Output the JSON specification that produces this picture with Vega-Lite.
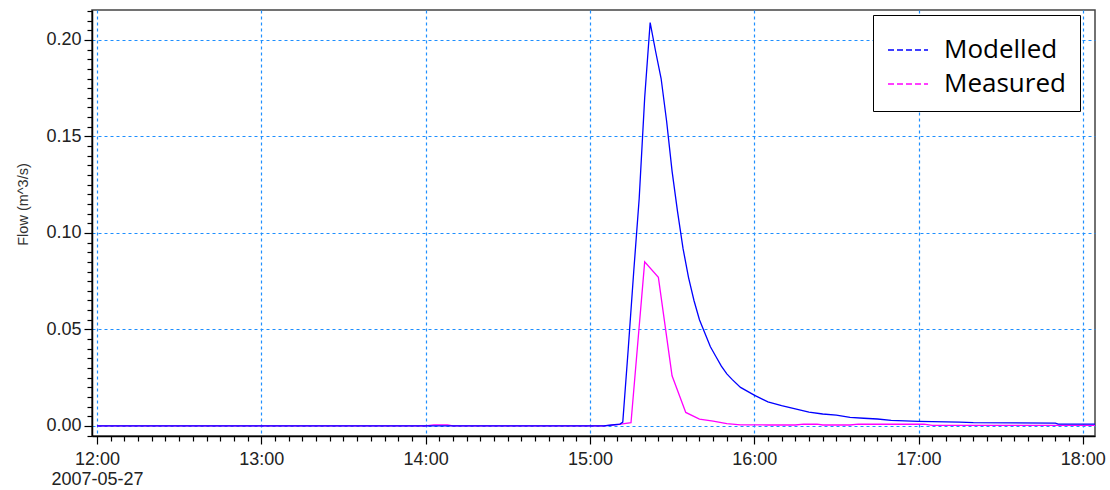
{
  "$schema": "https://vega.github.io/schema/vega-lite/v6.json",
  "width": 1003,
  "height": 426,
  "autosize": {"type": "none"},
  "padding": {"left": 92, "top": 10, "right": 15, "bottom": 54},
  "background": "white",
  "config": {
    "view": {"stroke": "#444", "strokeWidth": 1.5},
    "font": "Liberation Sans"
  },
  "data": {
    "values": [
      {"time": "2007-05-27T12:00:00", "flow": 0, "series": "Modelled"},
      {"time": "2007-05-27T15:05:00", "flow": 0, "series": "Modelled"},
      {"time": "2007-05-27T15:08:00", "flow": 0.0005, "series": "Modelled"},
      {"time": "2007-05-27T15:11:00", "flow": 0.001, "series": "Modelled"},
      {"time": "2007-05-27T15:12:00", "flow": 0.002, "series": "Modelled"},
      {"time": "2007-05-27T15:14:00", "flow": 0.040, "series": "Modelled"},
      {"time": "2007-05-27T15:16:00", "flow": 0.080, "series": "Modelled"},
      {"time": "2007-05-27T15:18:00", "flow": 0.118, "series": "Modelled"},
      {"time": "2007-05-27T15:20:00", "flow": 0.170, "series": "Modelled"},
      {"time": "2007-05-27T15:22:00", "flow": 0.209, "series": "Modelled"},
      {"time": "2007-05-27T15:24:00", "flow": 0.194, "series": "Modelled"},
      {"time": "2007-05-27T15:26:00", "flow": 0.180, "series": "Modelled"},
      {"time": "2007-05-27T15:28:00", "flow": 0.158, "series": "Modelled"},
      {"time": "2007-05-27T15:30:00", "flow": 0.132, "series": "Modelled"},
      {"time": "2007-05-27T15:32:00", "flow": 0.111, "series": "Modelled"},
      {"time": "2007-05-27T15:34:00", "flow": 0.092, "series": "Modelled"},
      {"time": "2007-05-27T15:36:00", "flow": 0.077, "series": "Modelled"},
      {"time": "2007-05-27T15:38:00", "flow": 0.065, "series": "Modelled"},
      {"time": "2007-05-27T15:40:00", "flow": 0.055, "series": "Modelled"},
      {"time": "2007-05-27T15:42:00", "flow": 0.048, "series": "Modelled"},
      {"time": "2007-05-27T15:44:00", "flow": 0.041, "series": "Modelled"},
      {"time": "2007-05-27T15:46:00", "flow": 0.036, "series": "Modelled"},
      {"time": "2007-05-27T15:48:00", "flow": 0.031, "series": "Modelled"},
      {"time": "2007-05-27T15:50:00", "flow": 0.027, "series": "Modelled"},
      {"time": "2007-05-27T15:52:00", "flow": 0.024, "series": "Modelled"},
      {"time": "2007-05-27T15:55:00", "flow": 0.020, "series": "Modelled"},
      {"time": "2007-05-27T16:00:00", "flow": 0.016, "series": "Modelled"},
      {"time": "2007-05-27T16:05:00", "flow": 0.0125, "series": "Modelled"},
      {"time": "2007-05-27T16:10:00", "flow": 0.0105, "series": "Modelled"},
      {"time": "2007-05-27T16:15:00", "flow": 0.0088, "series": "Modelled"},
      {"time": "2007-05-27T16:20:00", "flow": 0.0072, "series": "Modelled"},
      {"time": "2007-05-27T16:25:00", "flow": 0.0062, "series": "Modelled"},
      {"time": "2007-05-27T16:30:00", "flow": 0.0056, "series": "Modelled"},
      {"time": "2007-05-27T16:35:00", "flow": 0.0044, "series": "Modelled"},
      {"time": "2007-05-27T16:40:00", "flow": 0.0040, "series": "Modelled"},
      {"time": "2007-05-27T16:45:00", "flow": 0.0036, "series": "Modelled"},
      {"time": "2007-05-27T16:50:00", "flow": 0.0029, "series": "Modelled"},
      {"time": "2007-05-27T17:00:00", "flow": 0.0024, "series": "Modelled"},
      {"time": "2007-05-27T17:05:00", "flow": 0.0022, "series": "Modelled"},
      {"time": "2007-05-27T17:15:00", "flow": 0.0020, "series": "Modelled"},
      {"time": "2007-05-27T17:20:00", "flow": 0.0017, "series": "Modelled"},
      {"time": "2007-05-27T17:50:00", "flow": 0.0015, "series": "Modelled"},
      {"time": "2007-05-27T17:51:00", "flow": 0.0010, "series": "Modelled"},
      {"time": "2007-05-27T18:05:00", "flow": 0.0009, "series": "Modelled"},
      {"time": "2007-05-27T12:00:00", "flow": 0, "series": "Measured"},
      {"time": "2007-05-27T14:00:00", "flow": 0, "series": "Measured"},
      {"time": "2007-05-27T14:03:00", "flow": 0.0006, "series": "Measured"},
      {"time": "2007-05-27T14:08:00", "flow": 0.0006, "series": "Measured"},
      {"time": "2007-05-27T14:10:00", "flow": 0, "series": "Measured"},
      {"time": "2007-05-27T15:05:00", "flow": 0, "series": "Measured"},
      {"time": "2007-05-27T15:10:00", "flow": 0.0007, "series": "Measured"},
      {"time": "2007-05-27T15:15:00", "flow": 0.0017, "series": "Measured"},
      {"time": "2007-05-27T15:20:00", "flow": 0.085, "series": "Measured"},
      {"time": "2007-05-27T15:25:00", "flow": 0.077, "series": "Measured"},
      {"time": "2007-05-27T15:30:00", "flow": 0.026, "series": "Measured"},
      {"time": "2007-05-27T15:35:00", "flow": 0.007, "series": "Measured"},
      {"time": "2007-05-27T15:40:00", "flow": 0.0035, "series": "Measured"},
      {"time": "2007-05-27T15:45:00", "flow": 0.0025, "series": "Measured"},
      {"time": "2007-05-27T15:50:00", "flow": 0.0012, "series": "Measured"},
      {"time": "2007-05-27T15:55:00", "flow": 0.0006, "series": "Measured"},
      {"time": "2007-05-27T16:00:00", "flow": 0.0006, "series": "Measured"},
      {"time": "2007-05-27T16:05:00", "flow": 0.0005, "series": "Measured"},
      {"time": "2007-05-27T16:15:00", "flow": 0.0005, "series": "Measured"},
      {"time": "2007-05-27T16:18:00", "flow": 0.0009, "series": "Measured"},
      {"time": "2007-05-27T16:23:00", "flow": 0.0009, "series": "Measured"},
      {"time": "2007-05-27T16:25:00", "flow": 0.0005, "series": "Measured"},
      {"time": "2007-05-27T16:35:00", "flow": 0.0005, "series": "Measured"},
      {"time": "2007-05-27T16:38:00", "flow": 0.0009, "series": "Measured"},
      {"time": "2007-05-27T17:02:00", "flow": 0.0009, "series": "Measured"},
      {"time": "2007-05-27T17:05:00", "flow": 0.0003, "series": "Measured"},
      {"time": "2007-05-27T18:05:00", "flow": 0.0003, "series": "Measured"}
    ]
  },
  "layer": [
    {
      "transform": [{"filter": "datum.series == 'Measured'"}],
      "mark": {"type": "line", "strokeWidth": 1.3, "clip": true},
      "encoding": {
        "x": {
          "field": "time",
          "type": "temporal",
          "scale": {
            "domain": [
              {"year": 2007, "month": 5, "date": 27, "hours": 11, "minutes": 58, "seconds": 10},
              {"year": 2007, "month": 5, "date": 27, "hours": 18, "minutes": 4, "seconds": 27}
            ],
            "nice": false
          },
          "axis": {
            "orient": "bottom",
            "title": "2007-05-27",
            "titleFont": "Liberation Sans",
            "titleFontSize": 18,
            "titleFontWeight": "normal",
            "titleColor": "#222",
            "titleX": 5,
            "titleY": 34,
            "titleAlign": "center",
            "titleBaseline": "top",
            "values": [
              {"year": 2007, "month": 5, "date": 27, "hours": 12},
              {"year": 2007, "month": 5, "date": 27, "hours": 13},
              {"year": 2007, "month": 5, "date": 27, "hours": 14},
              {"year": 2007, "month": 5, "date": 27, "hours": 15},
              {"year": 2007, "month": 5, "date": 27, "hours": 16},
              {"year": 2007, "month": 5, "date": 27, "hours": 17},
              {"year": 2007, "month": 5, "date": 27, "hours": 18}
            ],
            "format": "%H:%M",
            "grid": true,
            "gridColor": "#1E8FFF",
            "gridDash": [3, 3],
            "gridWidth": 1.2,
            "domainColor": "black",
            "domainWidth": 1.5,
            "tickColor": "black",
            "tickWidth": 1.2,
            "tickSize": 8,
            "labelOverlap": false,
            "labelFlush": false,
            "labelBound": false,
            "labelFont": "Liberation Sans",
            "labelFontSize": 18,
            "labelColor": "#222",
            "labelPadding": 6
          }
        },
        "y": {
          "field": "flow",
          "type": "quantitative",
          "scale": {"domain": [-0.0052, 0.2155], "nice": false, "zero": false},
          "axis": {
            "orient": "left",
            "title": "Flow (m^3/s)",
            "titleFont": "Liberation Sans",
            "titleFontSize": 14.5,
            "titleFontWeight": "normal",
            "titleColor": "#333",
            "titleX": -69,
            "titleY": 194,
            "titleAlign": "center",
            "titleBaseline": "middle",
            "values": [0, 0.05, 0.1, 0.15, 0.2],
            "format": ".2f",
            "grid": true,
            "gridColor": "#1E8FFF",
            "gridDash": [3, 3],
            "gridWidth": 1.2,
            "domainColor": "black",
            "domainWidth": 1.5,
            "tickColor": "black",
            "tickWidth": 1.2,
            "tickSize": 8,
            "labelOverlap": false,
            "labelFlush": false,
            "labelBound": false,
            "labelFont": "Liberation Sans",
            "labelFontSize": 18,
            "labelColor": "#222",
            "labelPadding": 3
          }
        },
        "color": {
          "field": "series",
          "type": "nominal",
          "scale": {"domain": ["Modelled", "Measured"], "range": ["#0000FF", "#FF00FF"]},
          "legend": {
            "title": null,
            "orient": "none",
            "legendX": 781,
            "legendY": 5,
            "fillColor": "white",
            "strokeColor": "black",
            "padding": 14,
            "symbolType": "stroke",
            "symbolSize": 1600,
            "symbolStrokeWidth": 1.3,
            "symbolDash": [6, 3],
            "labelFont": "Open Sans",
            "labelFontSize": 26,
            "labelColor": "black",
            "labelOffset": 15,
            "rowPadding": -4,
            "labelLimit": 300
          }
        }
      }
    },
    {
      "transform": [{"filter": "datum.series == 'Modelled'"}],
      "mark": {"type": "line", "strokeWidth": 1.3, "clip": true},
      "encoding": {
        "x": {
          "field": "time",
          "type": "temporal",
          "axis": {
            "orient": "bottom",
            "title": null,
            "values": [
              {"year": 2007, "month": 5, "date": 27, "hours": 12, "minutes": 5},
              {"year": 2007, "month": 5, "date": 27, "hours": 12, "minutes": 10},
              {"year": 2007, "month": 5, "date": 27, "hours": 12, "minutes": 15},
              {"year": 2007, "month": 5, "date": 27, "hours": 12, "minutes": 20},
              {"year": 2007, "month": 5, "date": 27, "hours": 12, "minutes": 25},
              {"year": 2007, "month": 5, "date": 27, "hours": 12, "minutes": 30},
              {"year": 2007, "month": 5, "date": 27, "hours": 12, "minutes": 35},
              {"year": 2007, "month": 5, "date": 27, "hours": 12, "minutes": 40},
              {"year": 2007, "month": 5, "date": 27, "hours": 12, "minutes": 45},
              {"year": 2007, "month": 5, "date": 27, "hours": 12, "minutes": 50},
              {"year": 2007, "month": 5, "date": 27, "hours": 12, "minutes": 55},
              {"year": 2007, "month": 5, "date": 27, "hours": 13, "minutes": 5},
              {"year": 2007, "month": 5, "date": 27, "hours": 13, "minutes": 10},
              {"year": 2007, "month": 5, "date": 27, "hours": 13, "minutes": 15},
              {"year": 2007, "month": 5, "date": 27, "hours": 13, "minutes": 20},
              {"year": 2007, "month": 5, "date": 27, "hours": 13, "minutes": 25},
              {"year": 2007, "month": 5, "date": 27, "hours": 13, "minutes": 30},
              {"year": 2007, "month": 5, "date": 27, "hours": 13, "minutes": 35},
              {"year": 2007, "month": 5, "date": 27, "hours": 13, "minutes": 40},
              {"year": 2007, "month": 5, "date": 27, "hours": 13, "minutes": 45},
              {"year": 2007, "month": 5, "date": 27, "hours": 13, "minutes": 50},
              {"year": 2007, "month": 5, "date": 27, "hours": 13, "minutes": 55},
              {"year": 2007, "month": 5, "date": 27, "hours": 14, "minutes": 5},
              {"year": 2007, "month": 5, "date": 27, "hours": 14, "minutes": 10},
              {"year": 2007, "month": 5, "date": 27, "hours": 14, "minutes": 15},
              {"year": 2007, "month": 5, "date": 27, "hours": 14, "minutes": 20},
              {"year": 2007, "month": 5, "date": 27, "hours": 14, "minutes": 25},
              {"year": 2007, "month": 5, "date": 27, "hours": 14, "minutes": 30},
              {"year": 2007, "month": 5, "date": 27, "hours": 14, "minutes": 35},
              {"year": 2007, "month": 5, "date": 27, "hours": 14, "minutes": 40},
              {"year": 2007, "month": 5, "date": 27, "hours": 14, "minutes": 45},
              {"year": 2007, "month": 5, "date": 27, "hours": 14, "minutes": 50},
              {"year": 2007, "month": 5, "date": 27, "hours": 14, "minutes": 55},
              {"year": 2007, "month": 5, "date": 27, "hours": 15, "minutes": 5},
              {"year": 2007, "month": 5, "date": 27, "hours": 15, "minutes": 10},
              {"year": 2007, "month": 5, "date": 27, "hours": 15, "minutes": 15},
              {"year": 2007, "month": 5, "date": 27, "hours": 15, "minutes": 20},
              {"year": 2007, "month": 5, "date": 27, "hours": 15, "minutes": 25},
              {"year": 2007, "month": 5, "date": 27, "hours": 15, "minutes": 30},
              {"year": 2007, "month": 5, "date": 27, "hours": 15, "minutes": 35},
              {"year": 2007, "month": 5, "date": 27, "hours": 15, "minutes": 40},
              {"year": 2007, "month": 5, "date": 27, "hours": 15, "minutes": 45},
              {"year": 2007, "month": 5, "date": 27, "hours": 15, "minutes": 50},
              {"year": 2007, "month": 5, "date": 27, "hours": 15, "minutes": 55},
              {"year": 2007, "month": 5, "date": 27, "hours": 16, "minutes": 5},
              {"year": 2007, "month": 5, "date": 27, "hours": 16, "minutes": 10},
              {"year": 2007, "month": 5, "date": 27, "hours": 16, "minutes": 15},
              {"year": 2007, "month": 5, "date": 27, "hours": 16, "minutes": 20},
              {"year": 2007, "month": 5, "date": 27, "hours": 16, "minutes": 25},
              {"year": 2007, "month": 5, "date": 27, "hours": 16, "minutes": 30},
              {"year": 2007, "month": 5, "date": 27, "hours": 16, "minutes": 35},
              {"year": 2007, "month": 5, "date": 27, "hours": 16, "minutes": 40},
              {"year": 2007, "month": 5, "date": 27, "hours": 16, "minutes": 45},
              {"year": 2007, "month": 5, "date": 27, "hours": 16, "minutes": 50},
              {"year": 2007, "month": 5, "date": 27, "hours": 16, "minutes": 55},
              {"year": 2007, "month": 5, "date": 27, "hours": 17, "minutes": 5},
              {"year": 2007, "month": 5, "date": 27, "hours": 17, "minutes": 10},
              {"year": 2007, "month": 5, "date": 27, "hours": 17, "minutes": 15},
              {"year": 2007, "month": 5, "date": 27, "hours": 17, "minutes": 20},
              {"year": 2007, "month": 5, "date": 27, "hours": 17, "minutes": 25},
              {"year": 2007, "month": 5, "date": 27, "hours": 17, "minutes": 30},
              {"year": 2007, "month": 5, "date": 27, "hours": 17, "minutes": 35},
              {"year": 2007, "month": 5, "date": 27, "hours": 17, "minutes": 40},
              {"year": 2007, "month": 5, "date": 27, "hours": 17, "minutes": 45},
              {"year": 2007, "month": 5, "date": 27, "hours": 17, "minutes": 50},
              {"year": 2007, "month": 5, "date": 27, "hours": 17, "minutes": 55}
            ],
            "grid": false,
            "domain": false,
            "labels": false,
            "tickColor": "black",
            "tickWidth": 1.2,
            "tickSize": 5
          }
        },
        "y": {
          "field": "flow",
          "type": "quantitative",
          "axis": {
            "orient": "left",
            "title": null,
            "values": [-0.005, 0.005, 0.01, 0.015, 0.02, 0.025, 0.03, 0.035, 0.04, 0.045, 0.055, 0.06, 0.065, 0.07, 0.075, 0.08, 0.085, 0.09, 0.095, 0.105, 0.11, 0.115, 0.12, 0.125, 0.13, 0.135, 0.14, 0.145, 0.155, 0.16, 0.165, 0.17, 0.175, 0.18, 0.185, 0.19, 0.195, 0.205, 0.21, 0.215],
            "grid": false,
            "domain": false,
            "labels": false,
            "tickColor": "black",
            "tickWidth": 1.2,
            "tickSize": 5
          }
        },
        "color": {"field": "series", "type": "nominal"}
      }
    }
  ],
  "resolve": {"axis": {"x": "independent", "y": "independent"}}
}
